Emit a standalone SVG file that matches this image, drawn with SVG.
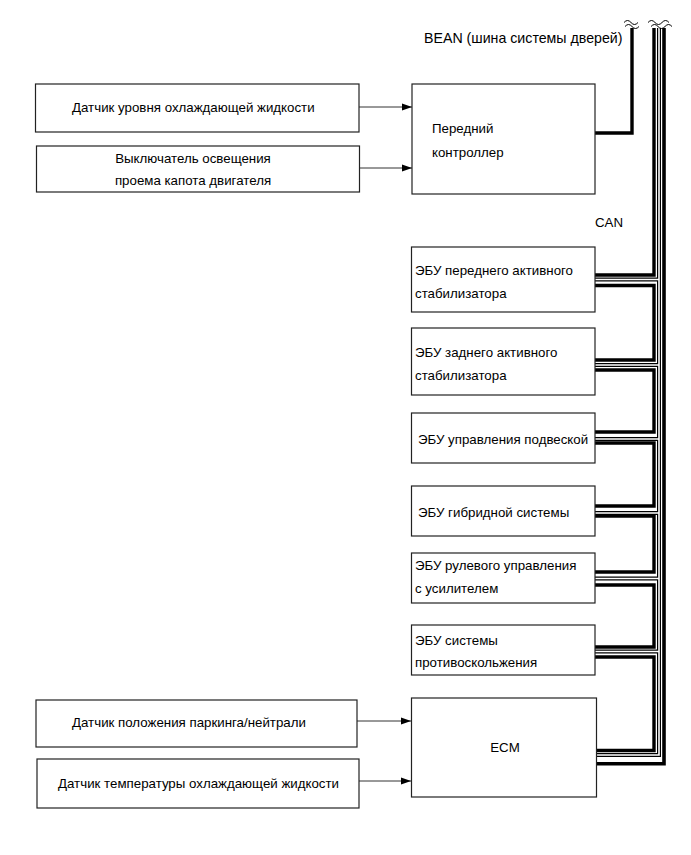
<svg xmlns="http://www.w3.org/2000/svg" width="691" height="855" viewBox="0 0 691 855">
<style>
.box{fill:#fff;stroke:#222;stroke-width:1.2}
.t{font-family:"Liberation Sans",Arial,sans-serif;font-size:13.3px;fill:#000}
.tc{text-anchor:middle}
.arr{fill:none;stroke:#333;stroke-width:1}
.thick{fill:none;stroke:#000;stroke-width:3.4;stroke-linejoin:miter}
.dbl-o{fill:none;stroke:#000;stroke-width:4;stroke-linejoin:miter}
.dbl-i{fill:none;stroke:#fff;stroke-width:1.6;stroke-linejoin:miter}
.tilde{fill:none;stroke:#000;stroke-width:1}
</style>
<defs>
<marker id="ah" markerWidth="10" markerHeight="8" refX="10" refY="4" orient="auto" markerUnits="userSpaceOnUse">
<path d="M0,0.5 L10,4 L0,7.5 Z" fill="#000"/>
</marker>
</defs>
<rect width="691" height="855" fill="#fff"/>

<g id="connectors">
<path class="arr" d="M359,107 H412" marker-end="url(#ah)"/>
<path class="arr" d="M360,168 H412" marker-end="url(#ah)"/>
<path class="arr" d="M357,721 H411" marker-end="url(#ah)"/>
<path class="arr" d="M359,781 H411" marker-end="url(#ah)"/>
<!-- BEAN -->
<path class="thick" d="M595,133 H632 V28"/>
<path class="tilde" d="M624,22.5 q3.5,-4 7,0 t7,0"/>
<path class="tilde" d="M625,26.5 q3.5,-4 7,0 t7,0"/>
<!-- CAN thick chain -->
<path class="thick" d="M654,28 V275 H595"/>
<path class="thick" d="M595,285.5 H654 V360 H595"/>
<path class="thick" d="M595,370 H654 V432 H595"/>
<path class="thick" d="M595,443 H654 V506 H595"/>
<path class="thick" d="M595,516 H654 V572 H595"/>
<path class="thick" d="M595,585 H654 V647 H595"/>
<path class="thick" d="M595,657 H654 V750.5 H597"/>
<!-- CAN double line -->
<g>
<path class="dbl-o" d="M659,28 V755 H597 M595,279.5 H659 M595,365 H659 M595,439 H659 M595,513 H659 M595,578.5 H659 M595,651.5 H659"/>
<path class="dbl-i" d="M659,28 V755 H597 M595,279.5 H659 M595,365 H659 M595,439 H659 M595,513 H659 M595,578.5 H659 M595,651.5 H659"/>
</g>
<!-- CAN main thick -->
<path class="thick" style="stroke-width:3.6" d="M664,28 V763.7 H597"/>
<path class="tilde" d="M648,22.5 q3.5,-4 7,0 t7,0 t7,0"/>
<path class="tilde" d="M651,26.5 q3.5,-4 7,0 t7,0 t7,0"/>
</g>

<text class="t" x="424" y="42.5" style="font-size:14.2px">BEAN (шина системы дверей)</text>
<text class="t" x="595" y="226.5">CAN</text>

<g id="n1"><rect class="box" x="35.5" y="84" width="323.5" height="48"/>
<text class="t" x="72" y="111.5">Датчик уровня охлаждающей жидкости</text></g>
<g id="n2"><rect class="box" x="36.5" y="146" width="323" height="46"/>
<text class="t tc" x="193" y="162.5">Выключатель освещения</text>
<text class="t tc" x="193" y="184.5">проема капота двигателя</text></g>
<g id="n3"><rect class="box" x="412" y="84" width="183" height="110"/>
<text class="t" x="432" y="132.5">Передний</text>
<text class="t" x="432" y="156.5">контроллер</text></g>

<g id="n4"><rect class="box" x="411.5" y="247" width="183.5" height="65"/>
<text class="t" x="415" y="274.5">ЭБУ переднего активного</text>
<text class="t" x="415" y="298">стабилизатора</text></g>
<g id="n5"><rect class="box" x="411.5" y="328" width="183.5" height="67"/>
<text class="t" x="415" y="356.5">ЭБУ заднего активного</text>
<text class="t" x="415" y="379.5">стабилизатора</text></g>
<g id="n6"><rect class="box" x="411.5" y="413" width="183.5" height="50"/>
<text class="t" x="418" y="443.5">ЭБУ управления подвеской</text></g>
<g id="n7"><rect class="box" x="411.5" y="486" width="183.5" height="50"/>
<text class="t" x="418" y="516.5">ЭБУ гибридной системы</text></g>
<g id="n8"><rect class="box" x="411.5" y="553" width="183.5" height="50"/>
<text class="t" x="415" y="569.5">ЭБУ рулевого управления</text>
<text class="t" x="415" y="592.5">с усилителем</text></g>
<g id="n9"><rect class="box" x="411.5" y="625" width="183.5" height="50"/>
<text class="t" x="415" y="644.5">ЭБУ системы</text>
<text class="t" x="415" y="666.5">противоскольжения</text></g>
<g id="n10"><rect class="box" x="411.5" y="698" width="185" height="99"/>
<text class="t tc" x="505" y="751.5">ECM</text></g>

<g id="n11"><rect class="box" x="36" y="700" width="321" height="47"/>
<text class="t" x="72" y="726.5">Датчик положения паркинга/нейтрали</text></g>
<g id="n12"><rect class="box" x="37" y="759" width="322" height="49"/>
<text class="t" x="58" y="787.5">Датчик температуры охлаждающей жидкости</text></g>
</svg>
